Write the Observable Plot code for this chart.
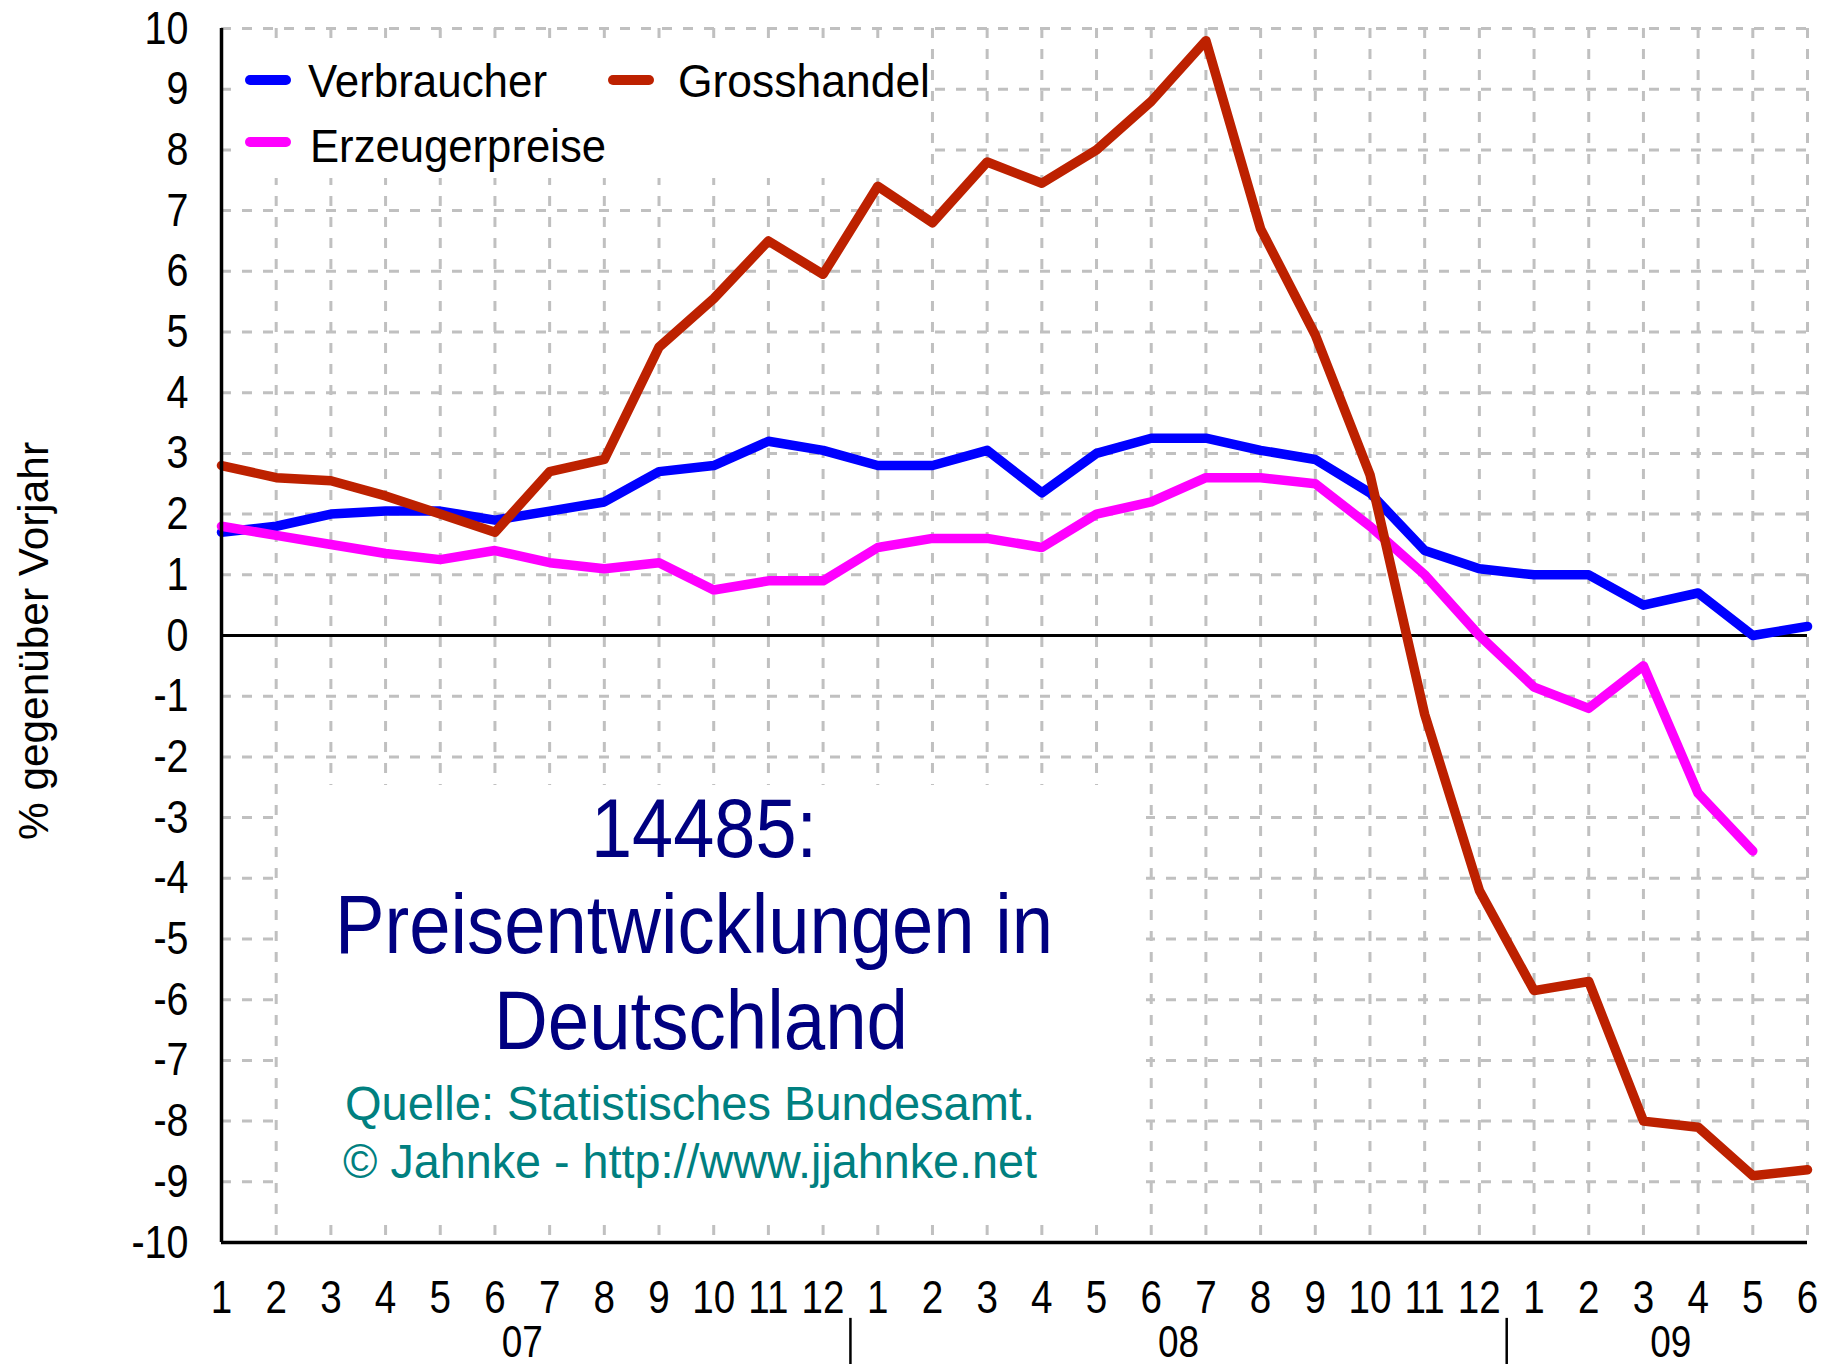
<!DOCTYPE html>
<html>
<head>
<meta charset="utf-8">
<script src="https://cdn.jsdelivr.net/npm/d3@7"></script>
<script src="https://cdn.jsdelivr.net/npm/@observablehq/plot@0.6"></script>
<style>
  body { margin: 0; background: #ffffff; }
  #wrap { position: relative; width: 1824px; height: 1364px; background: #ffffff; }
  #wrap > svg { position: absolute; left: 0; top: 0; }
</style>
</head>
<body>
<div id="wrap"></div>
<script>
// ---------- data ----------
const monthIndex = [0,1,2,3,4,5,6,7,8,9,10,11,12,13,14,15,16,17,18,19,20,21,22,23,24,25,26,27,28,29];
const monthLabels = ["1","2","3","4","5","6","7","8","9","10","11","12",
                     "1","2","3","4","5","6","7","8","9","10","11","12",
                     "1","2","3","4","5","6"];
const yearLabels = ["07", "08", "09"];
const yearCenters = [5.5, 17.5, 26.5];
const yearBreaks = [11.5, 23.5];
const yTicks = [-10,-9,-8,-7,-6,-5,-4,-3,-2,-1,0,1,2,3,4,5,6,7,8,9,10];

// % gegenüber Vorjahr, Jan 2007 .. Jun 2009
const verbraucher = [1.7, 1.8, 2.0, 2.05, 2.05, 1.9, 2.05, 2.2, 2.7, 2.8, 3.2, 3.05,
                     2.8, 2.8, 3.05, 2.35, 3.0, 3.25, 3.25, 3.05, 2.9, 2.35, 1.4, 1.1,
                     1.0, 1.0, 0.5, 0.7, 0.0, 0.15];
const grosshandel = [2.8, 2.6, 2.55, 2.3, 2.0, 1.7, 2.7, 2.9, 4.75, 5.55, 6.5, 5.95,
                     7.4, 6.8, 7.8, 7.45, 8.0, 8.8, 9.8, 6.7, 4.95, 2.65, -1.3, -4.2,
                     -5.85, -5.7, -8.0, -8.1, -8.9, -8.8];
const erzeugerpreise = [1.8, 1.65, 1.5, 1.35, 1.25, 1.4, 1.2, 1.1, 1.2, 0.75, 0.9, 0.9,
                        1.45, 1.6, 1.6, 1.45, 2.0, 2.2, 2.6, 2.6, 2.5, 1.8, 1.0, 0.0,
                        -0.85, -1.2, -0.5, -2.6, -3.55];

const seriesNames = ["Verbraucher", "Grosshandel", "Erzeugerpreise"];
const seriesColors = ["#0000ff", "#bd2100", "#ff00ff"];

const rowsV = verbraucher.map((v, i) => ({i: monthIndex[i], v}));
const rowsG = grosshandel.map((v, i) => ({i: monthIndex[i], v}));
const rowsE = erzeugerpreise.map((v, i) => ({i: monthIndex[i], v}));

const FONT = "'Liberation Sans', Arial, Helvetica, sans-serif";
const grid = {stroke: "#c0c0c0", strokeOpacity: 1, strokeWidth: 3, strokeDasharray: "10,11"};

const chart = Plot.plot({
  width: 1824,
  height: 1364,
  marginLeft: 221,
  marginRight: 17,
  marginTop: 28,
  marginBottom: 122,
  style: {fontFamily: FONT, fontSize: "47px", color: "#000", background: "#fff", overflow: "visible"},
  x: {domain: [0, 29], ticks: monthIndex, tickFormat: i => monthLabels[i], tickSize: 0, tickPadding: 38, label: null},
  y: {domain: [-10, 10], ticks: yTicks, tickFormat: d => String(d), tickSize: 0, tickPadding: 33, label: null},
  marks: [
    Plot.ruleY(yTicks.filter(d => d !== -10 && d !== 0), grid),
    Plot.ruleX(monthIndex.filter(d => d !== 0), grid),
    Plot.ruleY([0], {stroke: "#000", strokeWidth: 3}),
    Plot.line(rowsV, {x: "i", y: "v", stroke: seriesColors[0], strokeWidth: 9.5}),
    Plot.line(rowsE, {x: "i", y: "v", stroke: seriesColors[2], strokeWidth: 9.5}),
    Plot.line(rowsG, {x: "i", y: "v", stroke: seriesColors[1], strokeWidth: 9.5}),
    Plot.ruleX([0], {stroke: "#000", strokeWidth: 3.5}),
    Plot.ruleY([-10], {stroke: "#000", strokeWidth: 3.5}),
    Plot.ruleX(yearBreaks, {y1: -11.25, y2: -12.1, stroke: "#000", strokeWidth: 2.5}),
    Plot.text(yearLabels, {x: yearCenters, frameAnchor: "bottom", dy: 100, text: d => d,
                           fontSize: 44, fill: "#000", lineAnchor: "middle"})
  ]
});

document.getElementById("wrap").appendChild(chart);

// squeeze tick labels horizontally (narrow original typeface)
function squeeze(el, s) {
  const t = el.getAttribute("transform") || "";
  const x = +(el.getAttribute("x") || 0);
  el.setAttribute("transform", `${t} translate(${x},0) scale(${s},1) translate(${-x},0)`);
}
chart.querySelectorAll('[aria-label^="x-axis"] text, [aria-label^="y-axis"] text, g[aria-label="text"] text')
  .forEach(el => squeeze(el, 0.84));
chart.querySelectorAll('[aria-label^="x-axis"] text').forEach(el => el.style.fontSize = "46px");

// ---------- overlay: legend, titles, axis label ----------
const ov = d3.select("#wrap").append("svg")
  .attr("width", 1824).attr("height", 1364)
  .style("pointer-events", "none")
  .style("font-family", FONT);

// white boxes behind the legend and the title block
ov.append("rect").attr("x", 232).attr("y", 44).attr("width", 694).attr("height", 134).attr("fill", "#fff");
ov.append("rect").attr("x", 280).attr("y", 785).attr("width", 866).attr("height", 431).attr("fill", "#fff");

// legend
const legendItems = [
  {name: seriesNames[0], color: seriesColors[0], sx: 250, tx: 308, y: 80,  base: 97,  len: 239},
  {name: seriesNames[1], color: seriesColors[1], sx: 613, tx: 678, y: 80,  base: 97,  len: 252},
  {name: seriesNames[2], color: seriesColors[2], sx: 250, tx: 310, y: 142, base: 162, len: 296}
];
legendItems.forEach(d => {
  ov.append("line").attr("x1", d.sx).attr("x2", d.sx + 36).attr("y1", d.y).attr("y2", d.y)
    .attr("stroke", d.color).attr("stroke-width", 10).attr("stroke-linecap", "round");
  ov.append("text").attr("x", d.tx).attr("y", d.base).attr("font-size", 47).attr("fill", "#000")
    .attr("textLength", d.len).attr("lengthAdjust", "spacingAndGlyphs").text(d.name);
});

// y-axis label
ov.append("text")
  .attr("transform", "translate(48,641) rotate(-90)")
  .attr("text-anchor", "middle").attr("font-size", 42).attr("fill", "#000")
  .attr("textLength", 398).attr("lengthAdjust", "spacingAndGlyphs")
  .text("% gegenüber Vorjahr");

// title block
const titleLines = [
  {t: "14485:", x: 704, y: 857, len: 226},
  {t: "Preisentwicklungen in", x: 694, y: 953, len: 718},
  {t: "Deutschland", x: 701, y: 1049, len: 414}
];
titleLines.forEach(d => {
  ov.append("text").attr("x", d.x).attr("y", d.y).attr("text-anchor", "middle")
    .attr("font-size", 84).attr("fill", "#000080")
    .attr("textLength", d.len).attr("lengthAdjust", "spacingAndGlyphs").text(d.t);
});
const sourceLines = [
  {t: "Quelle: Statistisches Bundesamt.", x: 690, y: 1120, len: 690},
  {t: "© Jahnke - http://www.jjahnke.net", x: 690, y: 1178, len: 694}
];
sourceLines.forEach(d => {
  ov.append("text").attr("x", d.x).attr("y", d.y).attr("text-anchor", "middle")
    .attr("font-size", 48).attr("fill", "#008080")
    .attr("textLength", d.len).attr("lengthAdjust", "spacingAndGlyphs").text(d.t);
});
</script>
</body>
</html>
